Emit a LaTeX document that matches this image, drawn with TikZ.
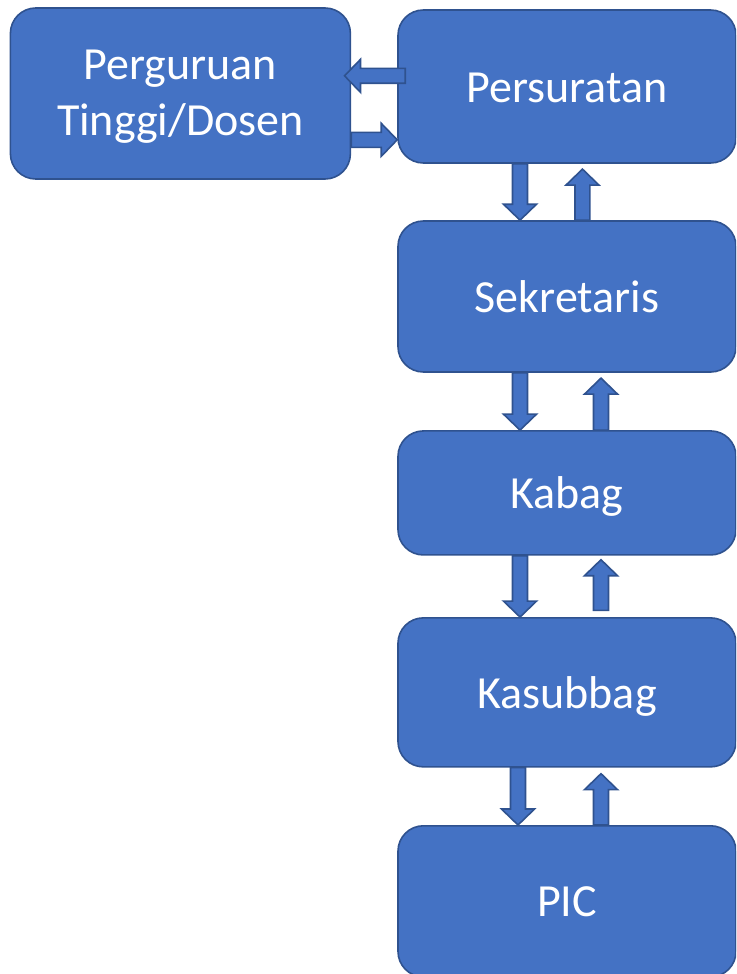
\documentclass[tikz,border=0pt]{standalone}
\usepackage{fontspec}
\setmainfont{Carlito}
\usetikzlibrary{positioning,calc}

\definecolor{boxfill}{HTML}{4472C4}
\definecolor{boxline}{HTML}{2F528F}

\tikzset{
    box/.style={draw=boxline, fill=boxfill, line width=1.2pt, rounded corners=19pt,
        text=white, align=center, inner sep=0pt, minimum width=253.5pt,
        font=\fontsize{34.5}{42.4}\selectfont,
        execute at begin node=\rule{0pt}{0.95em},
        execute at end node=\rule[-0.27em]{0pt}{0pt}},
    blockarrow/.style={draw=boxline, fill=boxfill, line width=1.2pt,
        to path={
            ($(\tikztotarget)!12pt!(\tikztostart)$) coordinate (hb)
            ($(\tikztostart)!5.6pt!90:(\tikztotarget)$)
            -- ($(hb)!5.6pt!90:(\tikztotarget)$)
            -- ($(hb)!12.4pt!90:(\tikztotarget)$)
            -- (\tikztotarget)
            -- ($(hb)!12.4pt!-90:(\tikztotarget)$)
            -- ($(hb)!5.6pt!-90:(\tikztotarget)$)
            -- ($(\tikztostart)!5.6pt!-90:(\tikztotarget)$)
            -- cycle}}
}

\begin{document}
\begin{tikzpicture}
    \useasboundingbox (0,0) rectangle (552pt,-730.5pt);
    \clip (0,0) rectangle (552pt,-730.5pt);

    \node[box, minimum height=114.75pt] (Pers) at (425.25pt,-64.875pt) {Persuratan};
    \node[box, minimum width=255pt, minimum height=128.25pt, text height=73pt, text depth=9.3pt,
        left=34.5pt of Pers, yshift=-5.25pt] (Perg) {Perguruan\\Tinggi/Dosen};
    \node[box, minimum height=113.25pt, below=42.3pt of Pers] (Sek) {Sekretaris};
    \node[box, minimum height=93pt, below=43pt of Sek] (Kabag) {Kabag};
    \node[box, minimum height=111.75pt, below=46pt of Kabag] (Kasub) {Kasubbag};
    \node[box, minimum height=113.25pt, below=43pt of Kasub] (PIC) {PIC};

    % surat masuk / keluar
    \draw[blockarrow] ([xshift=6pt,yshift=8pt]Pers.west) to ([xshift=-5pt,yshift=8pt]Pers.west -| Perg.east);
    \draw[blockarrow] ([yshift=-40pt]Pers.west -| Perg.east) to ([yshift=-40pt]Pers.west);

    % turun / naik
    \draw[blockarrow] ([xshift=-35.25pt]Pers.south) to ([xshift=-35.25pt]Sek.north);
    \draw[blockarrow] ([xshift=11.6pt]Sek.north) to ([xshift=11.6pt,yshift=-4pt]Pers.south);
    \draw[blockarrow] ([xshift=-35.25pt]Sek.south) to ([xshift=-35.25pt]Kabag.north);
    \draw[blockarrow] ([xshift=25.5pt]Kabag.north) to ([xshift=25.5pt,yshift=-4pt]Sek.south);
    \draw[blockarrow] ([xshift=-35.25pt]Kabag.south) to ([xshift=-35.25pt]Kasub.north);
    \draw[blockarrow] ([xshift=25.5pt,yshift=5pt]Kasub.north) to ([xshift=25.5pt,yshift=-3pt]Kabag.south);
    \draw[blockarrow] ([xshift=-36.75pt]Kasub.south) to ([xshift=-36.75pt]PIC.north);
    \draw[blockarrow] ([xshift=25.5pt]PIC.north) to ([xshift=25.5pt,yshift=-4.5pt]Kasub.south);
\end{tikzpicture}
\end{document}
